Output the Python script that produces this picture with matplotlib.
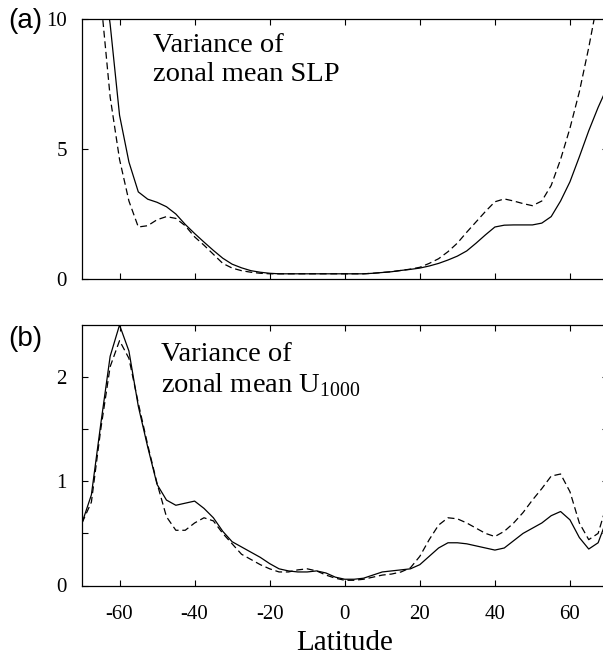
import numpy as np
import matplotlib
matplotlib.use("Agg")
import matplotlib.pyplot as plt

plt.rcParams['font.family'] = ['Liberation Serif', 'DejaVu Serif']
plt.rcParams['mathtext.fontset'] = 'custom'
plt.rcParams['mathtext.rm'] = 'Liberation Serif'

# Latitude grid (degrees)
lat = np.arange(-70, 70.1, 2.5)

# Panel (a): variance of zonal mean SLP
slp_solid = [22, 17, 12.5, 9.8, 6.3, 4.5, 3.35, 3.07, 2.95, 2.78, 2.5, 2.1, 1.75,
             1.42, 1.1, 0.8, 0.57, 0.43, 0.32, 0.26, 0.22, 0.2, 0.2, 0.2, 0.2, 0.2,
             0.2, 0.2, 0.2, 0.2, 0.2, 0.22, 0.25, 0.28, 0.33, 0.37, 0.42, 0.5, 0.6,
             0.73, 0.88, 1.08, 1.38, 1.7, 2.0, 2.07, 2.08, 2.08, 2.08, 2.15, 2.4,
             3.0, 3.74, 4.7, 5.7, 6.6, 7.4]
slp_dashed = [20, 15, 10.8, 7.0, 4.6, 3.0, 2.0, 2.05, 2.28, 2.4, 2.33, 2.05, 1.62,
              1.3, 0.95, 0.6, 0.42, 0.32, 0.26, 0.22, 0.2, 0.2, 0.2, 0.2, 0.2, 0.2,
              0.2, 0.2, 0.2, 0.2, 0.2, 0.22, 0.25, 0.28, 0.33, 0.38, 0.45, 0.6, 0.78,
              1.05, 1.38, 1.8, 2.2, 2.6, 2.97, 3.08, 3.0, 2.9, 2.82, 3.0, 3.6,
              4.6, 5.8, 7.2, 8.9, 10.8, 13]

# Panel (b): variance of zonal mean U1000
u_solid = [0.6, 0.87, 1.55, 2.2, 2.5, 2.25, 1.72, 1.33, 0.97, 0.82, 0.77, 0.79, 0.81,
           0.74, 0.65, 0.52, 0.42, 0.37, 0.32, 0.27, 0.21, 0.16, 0.14, 0.13, 0.13,
           0.14, 0.12, 0.08, 0.06, 0.06, 0.07, 0.1, 0.13, 0.14, 0.15, 0.16, 0.2,
           0.28, 0.36, 0.41, 0.41, 0.4, 0.38, 0.36, 0.34, 0.36, 0.43, 0.5, 0.55,
           0.6, 0.67, 0.71, 0.63, 0.46, 0.35, 0.41, 0.65]
u_dashed = [0.6, 0.8, 1.5, 2.1, 2.35, 2.18, 1.75, 1.35, 0.98, 0.66, 0.53, 0.53, 0.6,
            0.65, 0.62, 0.5, 0.4, 0.3, 0.25, 0.2, 0.16, 0.13, 0.13, 0.15, 0.16,
            0.14, 0.1, 0.07, 0.05, 0.05, 0.06, 0.08, 0.1, 0.11, 0.13, 0.17, 0.28,
            0.44, 0.58, 0.65, 0.64, 0.6, 0.55, 0.5, 0.47, 0.52, 0.6, 0.7, 0.82,
            0.93, 1.05, 1.07, 0.9, 0.6, 0.44, 0.5, 0.8]

xticks = [-60, -40, -20, 0, 20, 40, 60]
xticklabels = ['-60', '-40', '-20', '0', '20', '40', '60']

fig = plt.figure(figsize=(6.03, 6.57), dpi=100)
W, H = 603.0, 657.0
left, right = 82 / W, 607.5 / W
ax_a = fig.add_axes([left, (H - 279) / H, right - left, (279 - 19) / H])
ax_b = fig.add_axes([left, (H - 585.5) / H, right - left, (585.5 - 325) / H])

dash = (5.5, 3.0)
for ax, ys, yd in [(ax_a, slp_solid, slp_dashed), (ax_b, u_solid, u_dashed)]:
    ax.plot(lat, ys, color='black', lw=0.9)
    ax.plot(lat, yd, color='black', lw=0.9, linestyle=(0, dash))
    ax.set_xlim(-70, 70)
    ax.set_xticks(xticks)
    ax.tick_params(direction='in', top=True, right=True, length=4, width=0.8,
                   labelsize=15)
    ax.tick_params(axis='x', pad=14)
    ax.tick_params(axis='y', pad=11)
    ax.tick_params(which='minor', direction='in', right=True, length=4, width=0.8)
    for s in ax.spines.values():
        s.set_linewidth(0.9)

ax_a.set_ylim(0, 10)
ax_a.set_yticks([0, 5, 10])
ax_a.set_yticklabels(['0', '5', '10'])
ax_a.tick_params(labelbottom=False)
ax_a.text(0.135, 0.945, 'Variance of\nzonal mean SLP', transform=ax_a.transAxes,
          fontsize=20.5, va='top', ha='left', linespacing=1.2)

ax_b.set_ylim(0, 2.5)
ax_b.set_yticks([0, 1, 2])
ax_b.set_yticks([0.5, 1.5], minor=True)
ax_b.set_xticklabels(xticklabels)
ax_b.text(0.15, 0.935, 'Variance of\nzonal mean U$_{\\mathrm{1000}}$', transform=ax_b.transAxes,
          fontsize=20.5, va='top', ha='left', linespacing=1.2)
ax_b.set_xlabel('Latitude', fontsize=21, labelpad=4)

fig.text(8 / W, 1 - 21 / H, '(a)', family=['Liberation Sans', 'DejaVu Sans'],
         fontsize=20, va='center', ha='left')
fig.text(8 / W, 1 - 339 / H, '(b)', family=['Liberation Sans', 'DejaVu Sans'],
         fontsize=20, va='center', ha='left')

fig.savefig('out.png', dpi=100)
